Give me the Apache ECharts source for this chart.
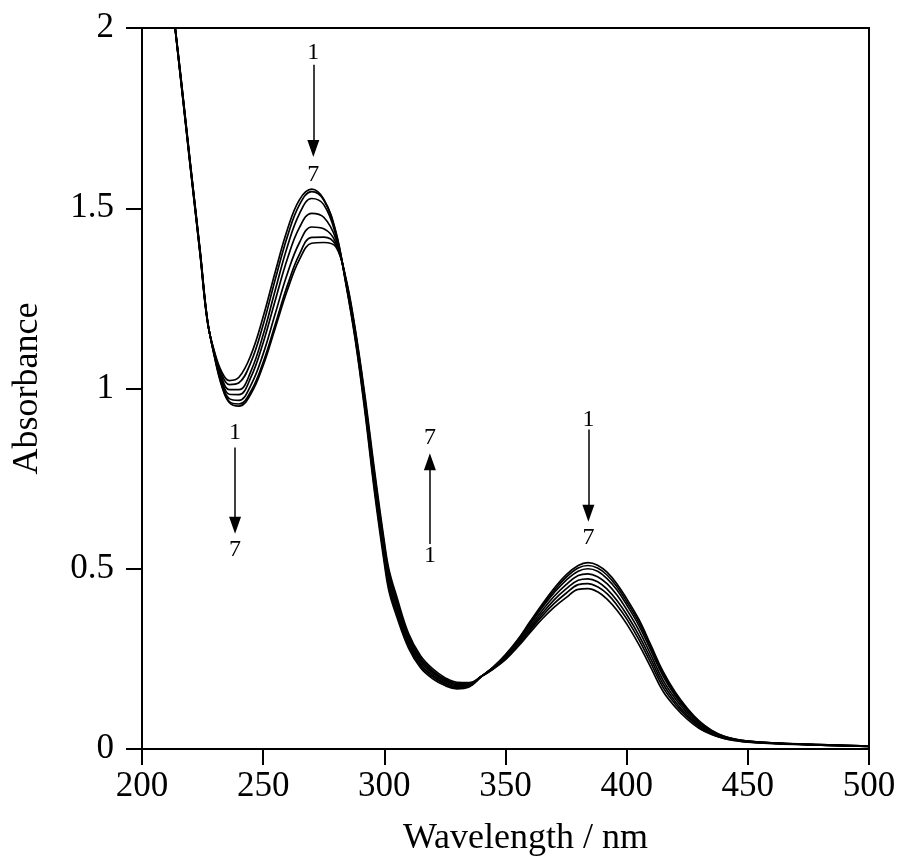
<!DOCTYPE html>
<html>
<head>
<meta charset="utf-8">
<script src="https://cdn.jsdelivr.net/npm/echarts@6/dist/echarts.min.js"></script>
<style>html,body{margin:0;padding:0;background:#fff;}#c{width:902px;height:862px;}</style>
</head>
<body>
<div id="c"></div>
<script>
const wavelengths = [212,216,220,224,227,230,233,236,240,245,250,255,260,265,270,275,280,284,288,292,296,300,302,305,310,315,320,325,330,335,340,345,350,355,360,365,370,375,380,384,388,392,396,400,405,410,415,420,425,430,435,440,445,450,460,475,500];

const curve1 = [2.10,1.855,1.61,1.37,1.185,
1.100,1.045,1.022,1.031,1.094,1.199,
1.324,1.441,1.524,1.553,1.525,
1.435,1.295,1.135,0.935,0.710,
0.515,0.435,0.370,0.280,0.225,
0.195,0.176,0.167,0.172,0.201,
0.228,0.262,0.303,0.352,0.400,
0.445,0.483,0.509,0.517,0.510,
0.490,0.458,0.417,0.360,0.288,
0.215,0.158,0.113,0.077,0.052,
0.036,0.027,0.022,0.017,0.013,0.008];

const curve2 = [2.10,1.857,1.612,1.372,1.186,
1.097,1.037,1.011,1.016,1.074,1.177,
1.303,1.422,1.510,1.546,1.523,
1.432,1.298,1.140,0.943,0.720,
0.525,0.445,0.379,0.287,0.231,
0.200,0.180,0.170,0.174,0.201,
0.227,0.260,0.301,0.349,0.396,
0.439,0.476,0.502,0.509,0.502,
0.482,0.450,0.409,0.352,0.281,
0.209,0.153,0.110,0.075,0.051,
0.035,0.027,0.022,0.017,0.013,0.008];

const curve3 = [2.10,1.859,1.614,1.374,1.187,
1.094,1.028,0.997,0.997,1.049,1.149,
1.273,1.394,1.485,1.527,1.510,
1.425,1.300,1.145,0.950,0.730,
0.535,0.455,0.388,0.293,0.236,
0.204,0.183,0.173,0.176,0.201,
0.227,0.259,0.298,0.345,0.391,
0.433,0.468,0.493,0.500,0.493,
0.472,0.441,0.400,0.343,0.273,
0.202,0.148,0.106,0.072,0.049,
0.034,0.026,0.021,0.017,0.013,0.008];

const curve4 = [2.10,1.861,1.616,1.376,1.188,
1.091,1.020,0.984,0.983,1.032,1.127,
1.245,1.360,1.447,1.486,1.475,
1.415,1.303,1.150,0.958,0.740,
0.545,0.465,0.398,0.300,0.242,
0.209,0.187,0.176,0.178,0.201,
0.225,0.256,0.294,0.339,0.383,
0.423,0.456,0.481,0.486,0.478,
0.458,0.427,0.387,0.330,0.261,
0.191,0.140,0.100,0.068,0.047,
0.033,0.025,0.021,0.016,0.012,0.007];

const curve5 = [2.10,1.863,1.618,1.378,1.189,
1.089,1.013,0.972,0.967,1.010,1.096,
1.208,1.319,1.405,1.448,1.443,
1.405,1.305,1.155,0.965,0.750,
0.555,0.475,0.407,0.307,0.247,
0.213,0.191,0.179,0.180,0.201,
0.224,0.253,0.291,0.333,0.375,
0.413,0.444,0.468,0.472,0.464,
0.443,0.412,0.373,0.316,0.249,
0.181,0.132,0.094,0.065,0.045,
0.032,0.025,0.020,0.016,0.012,0.007];

const curve6 = [2.10,1.865,1.620,1.380,1.190,
1.087,1.008,0.964,0.957,0.993,1.073,
1.178,1.286,1.373,1.419,1.420,
1.398,1.307,1.160,0.972,0.760,
0.565,0.485,0.416,0.313,0.252,
0.217,0.194,0.182,0.182,0.201,
0.223,0.251,0.287,0.328,0.368,
0.403,0.432,0.456,0.459,0.450,
0.430,0.399,0.361,0.304,0.238,
0.171,0.125,0.089,0.061,0.042,
0.030,0.024,0.020,0.016,0.012,0.007];

const curve7 = [2.10,1.867,1.622,1.382,1.191,
1.085,1.005,0.961,0.951,0.986,1.064,
1.168,1.273,1.358,1.403,1.405,
1.393,1.310,1.165,0.980,0.770,
0.575,0.495,0.425,0.320,0.258,
0.222,0.198,0.185,0.184,0.201,
0.222,0.248,0.283,0.322,0.360,
0.393,0.420,0.443,0.445,0.436,
0.415,0.385,0.347,0.290,0.226,
0.160,0.117,0.083,0.057,0.040,
0.029,0.023,0.019,0.015,0.012,0.007];

const curves = [curve1, curve2, curve3, curve4, curve5, curve6, curve7];

// annotation text: [wavelength, absorbance, text]
const annotationTexts = [
  [270.7, 1.931, '1'], [270.7, 1.594, '7'],
  [238.4, 0.877, '1'], [238.4, 0.554, '7'],
  [318.8, 0.863, '7'], [318.8, 0.535, '1'],
  [384.2, 0.914, '1'], [384.2, 0.586, '7']
];
// arrows: [x, yStart, x, yEnd]
const arrows = [
  [270.7, 1.898, 270.7, 1.666],
  [238.4, 0.836, 238.4, 0.621],
  [318.8, 0.569, 318.8, 0.797],
  [384.2, 0.886, 384.2, 0.654]
];

const FONT = "'Liberation Serif', 'DejaVu Serif', serif";

const chart = echarts.init(document.getElementById('c'), null, {renderer: 'canvas'});

const lineSeries = curves.map((c, i) => ({
  type: 'line',
  name: String(i + 1),
  data: wavelengths.map((w, j) => [w, c[j]]),
  showSymbol: false,
  symbol: 'none',
  smooth: 0.4,
  clip: true,
  lineStyle: {color: '#000', width: 1.7},
  emphasis: {disabled: true},
  silent: true
}));

const annoSeries = {
  type: 'scatter',
  data: annotationTexts.map(a => ({value: [a[0], a[1]], name: a[2]})),
  symbolSize: 0,
  itemStyle: {color: '#000'},
  silent: true,
  label: {
    show: true,
    position: 'inside',
    formatter: p => p.name,
    color: '#000',
    opacity: 1,
    fontSize: 24,
    fontFamily: FONT
  },
  markLine: {
    silent: true,
    symbol: ['none', 'triangle'],
    symbolSize: [0, 15],
    label: {show: false},
    lineStyle: {color: '#000', width: 1.5, type: 'solid', opacity: 1},
    emphasis: {disabled: true},
    data: arrows.map(a => [
      {coord: [a[0], a[1]], symbol: 'none'},
      {coord: [a[2], a[3]], symbol: 'triangle', symbolSize: [12, 17]}
    ])
  }
};

chart.setOption({
  animation: false,
  backgroundColor: '#fff',
  grid: {left: 142, top: 28, right: 33, bottom: 109, show: true, borderColor: '#000', borderWidth: 2, backgroundColor: 'rgba(0,0,0,0)'},
  xAxis: {
    type: 'value', min: 200, max: 500, interval: 50,
    name: 'Wavelength / nm', nameLocation: 'middle', nameGap: 72,
    nameTextStyle: {color: '#000', fontSize: 36, fontFamily: FONT, padding: [0, 0, 0, 40]},
    axisLine: {show: true, onZero: false, lineStyle: {color: '#000', width: 2}},
    axisTick: {show: true, length: 16, lineStyle: {color: '#000', width: 2}},
    axisLabel: {color: '#000', fontSize: 35, fontFamily: FONT, margin: 20},
    splitLine: {show: false}
  },
  yAxis: {
    type: 'value', min: 0, max: 2, interval: 0.5,
    name: 'Absorbance', nameLocation: 'middle', nameGap: 96, nameRotate: 90,
    nameTextStyle: {color: '#000', fontSize: 36, fontFamily: FONT},
    axisLine: {show: true, onZero: false, lineStyle: {color: '#000', width: 2}},
    axisTick: {show: true, length: 16, lineStyle: {color: '#000', width: 2}},
    axisLabel: {color: '#000', fontSize: 35, fontFamily: FONT, margin: 28},
    splitLine: {show: false}
  },
  series: lineSeries.concat([annoSeries])
});
</script>
</body>
</html>
